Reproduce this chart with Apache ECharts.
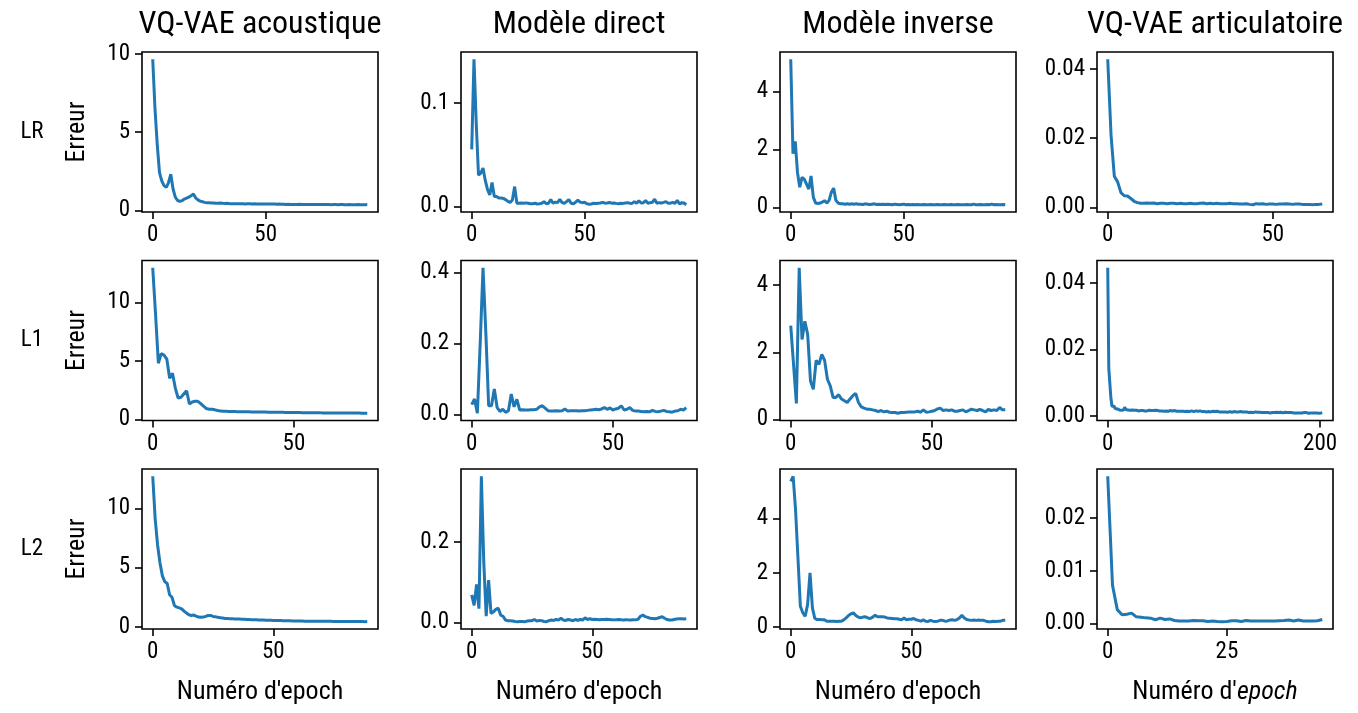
<!DOCTYPE html>
<html>
<head>
<meta charset="utf-8">
<script src="https://cdn.jsdelivr.net/npm/echarts@6.0.0/dist/echarts.min.js"></script>
<style>
  html, body { margin: 0; padding: 0; background: #fff; }
  #chart { width: 1358px; height: 713px; }
</style>
</head>
<body>
<div id="chart"></div>
<script>
const columns = ['VQ-VAE acoustique', 'Modèle direct', 'Modèle inverse', 'VQ-VAE articulatoire'];
const rows = ['LR', 'L1', 'L2'];

// error per epoch
const lrAcoustic = [
  9.66, 6.5, 4.2, 2.41, 1.89, 1.58, 1.47, 1.78, 2.31, 1.37,
  0.84, 0.63, 0.57, 0.62, 0.72, 0.78, 0.85, 0.93, 1.05, 0.8,
  0.67, 0.59, 0.55, 0.51, 0.49, 0.48, 0.47, 0.47, 0.46, 0.46,
  0.47, 0.45, 0.44, 0.46, 0.43, 0.43, 0.43, 0.42, 0.43, 0.42,
  0.42, 0.41, 0.42, 0.42, 0.41, 0.42, 0.41, 0.41, 0.41, 0.40,
  0.41, 0.40, 0.40, 0.41, 0.40, 0.39, 0.40, 0.39, 0.39, 0.38,
  0.39, 0.38, 0.38, 0.38, 0.38, 0.39, 0.38, 0.37, 0.38, 0.38,
  0.37, 0.37, 0.38, 0.37, 0.37, 0.37, 0.38, 0.37, 0.37, 0.36,
  0.37, 0.37, 0.36, 0.37, 0.37, 0.36, 0.36, 0.37, 0.36, 0.36,
  0.36, 0.37, 0.36, 0.36, 0.36, 0.37
];
const lrDirect = [
  0.055, 0.142, 0.08, 0.030, 0.032, 0.037, 0.025, 0.016, 0.011, 0.023,
  0.0095, 0.0095, 0.008, 0.008, 0.0076, 0.0064, 0.0048, 0.0038, 0.006, 0.019,
  0.003, 0.003, 0.0032, 0.003, 0.0033, 0.003, 0.0025, 0.0025, 0.003, 0.0022,
  0.0025, 0.003, 0.0045, 0.0025, 0.003, 0.0065, 0.003, 0.004, 0.0035, 0.0068,
  0.0035, 0.003, 0.0045, 0.0065, 0.003, 0.0025, 0.004, 0.0058, 0.004, 0.0035,
  0.0038, 0.0025, 0.002, 0.0022, 0.003, 0.0028, 0.003, 0.0032, 0.0038, 0.003,
  0.0032, 0.0036, 0.003, 0.0032, 0.0028, 0.0025, 0.003, 0.0028, 0.0032, 0.0035,
  0.003, 0.0028, 0.0045, 0.003, 0.0052, 0.0032, 0.0035, 0.0055, 0.003, 0.0035,
  0.0038, 0.0068, 0.003, 0.0035, 0.0032, 0.0038, 0.0045, 0.003, 0.003, 0.0038,
  0.0028, 0.0058, 0.0022, 0.0035, 0.0032, 0.0015
];
const lrInverse = [
  5.1, 1.85, 2.28, 1.2, 0.7, 1.04, 0.98, 0.81, 0.64, 1.09,
  0.36, 0.16, 0.14, 0.16, 0.19, 0.24, 0.16, 0.25, 0.53, 0.67,
  0.25, 0.16, 0.13, 0.13, 0.12, 0.13, 0.12, 0.13, 0.12, 0.13,
  0.12, 0.12, 0.11, 0.13, 0.12, 0.11, 0.12, 0.13, 0.11, 0.12,
  0.11, 0.12, 0.11, 0.12, 0.11, 0.10, 0.12, 0.11, 0.10, 0.11,
  0.12, 0.10, 0.11, 0.10, 0.11, 0.10, 0.11, 0.10, 0.10, 0.11,
  0.10, 0.10, 0.11, 0.10, 0.10, 0.11, 0.10, 0.10, 0.11, 0.10,
  0.10, 0.11, 0.10, 0.10, 0.11, 0.10, 0.10, 0.10, 0.11, 0.10,
  0.10, 0.12, 0.10, 0.10, 0.11, 0.10, 0.10, 0.11, 0.10, 0.12,
  0.10, 0.11, 0.10, 0.10, 0.11, 0.10
];
const lrArtic = [
  0.0428, 0.021, 0.009, 0.0074, 0.0043, 0.0034, 0.0033, 0.0026, 0.0018, 0.0014,
  0.0012, 0.0012, 0.0013, 0.0012, 0.0013, 0.0011, 0.0012, 0.0012, 0.0011, 0.0012,
  0.0012, 0.0011, 0.0012, 0.0011, 0.0011, 0.0012, 0.0011, 0.0011, 0.0012, 0.0013,
  0.0011, 0.0012, 0.0011, 0.0012, 0.0011, 0.0011, 0.0011, 0.0012, 0.0011, 0.0011,
  0.0010, 0.0010, 0.0011, 0.0009, 0.0008, 0.0011, 0.0010, 0.0011, 0.0009, 0.0010,
  0.0010, 0.0009, 0.0010, 0.0010, 0.0011, 0.0010, 0.0009, 0.0010, 0.0010, 0.0009,
  0.0009, 0.0009, 0.0008, 0.0009, 0.0009, 0.0010
];

const l1Acoustic = [
  12.96, 9.0, 4.8, 5.63, 5.5, 5.15, 3.52, 3.94, 2.68, 1.83,
  1.89, 2.17, 2.45, 1.32, 1.49, 1.55, 1.55, 1.35, 1.13, 0.93,
  0.87, 0.87, 0.82, 0.76, 0.73, 0.70, 0.69, 0.68, 0.67, 0.67,
  0.66, 0.66, 0.65, 0.65, 0.65, 0.64, 0.64, 0.64, 0.63, 0.63,
  0.63, 0.62, 0.62, 0.62, 0.61, 0.61, 0.61, 0.60, 0.60, 0.60,
  0.59, 0.59, 0.59, 0.58, 0.58, 0.58, 0.57, 0.57, 0.57, 0.57,
  0.56, 0.56, 0.56, 0.56, 0.55, 0.55, 0.55, 0.55, 0.55, 0.54,
  0.54, 0.54, 0.54, 0.54, 0.53, 0.53, 0.53
];
const l1Direct = [
  0.028, 0.044, 0.004, 0.2, 0.413, 0.23, 0.025, 0.025, 0.072, 0.020,
  0.009, 0.015, 0.0065, 0.011, 0.058, 0.022, 0.043, 0.013, 0.014, 0.013,
  0.013, 0.014, 0.014, 0.015, 0.022, 0.025, 0.018, 0.011, 0.010, 0.010,
  0.011, 0.010, 0.011, 0.016, 0.010, 0.011, 0.011, 0.011, 0.010, 0.011,
  0.011, 0.012, 0.013, 0.014, 0.015, 0.014, 0.016, 0.020, 0.015, 0.019,
  0.013, 0.016, 0.018, 0.025, 0.013, 0.015, 0.020, 0.012, 0.010, 0.010,
  0.009, 0.008, 0.009, 0.008, 0.012, 0.009, 0.008, 0.010, 0.012, 0.009,
  0.008, 0.007, 0.010, 0.011, 0.015, 0.013, 0.020
];
const l1Inverse = [
  2.79, 1.64, 0.48, 4.51, 2.38, 2.92, 2.53, 1.15, 0.90, 1.76,
  1.64, 1.94, 1.76, 1.2, 1.0, 0.66, 0.66, 0.74, 0.61, 0.56,
  0.51, 0.61, 0.71, 0.78, 0.51, 0.38, 0.34, 0.31, 0.31, 0.29,
  0.27, 0.24, 0.27, 0.23, 0.25, 0.22, 0.21, 0.21, 0.19, 0.21,
  0.21, 0.22, 0.23, 0.23, 0.23, 0.25, 0.22, 0.29, 0.22, 0.23,
  0.25, 0.27, 0.32, 0.34, 0.27, 0.29, 0.27, 0.29, 0.25, 0.25,
  0.27, 0.29, 0.23, 0.27, 0.31, 0.29, 0.27, 0.30, 0.27, 0.23,
  0.30, 0.27, 0.29, 0.27, 0.36, 0.29, 0.29
];
const l1Artic = [
  0.0445, 0.0143, 0.0138, 0.0053, 0.0029, 0.0024, 0.0029, 0.0022, 0.0026, 0.0021, 0.0019,
  0.0018, 0.0020, 0.0017, 0.0019, 0.0018, 0.0026, 0.0019, 0.0017, 0.0018, 0.0016,
  0.0017, 0.0016, 0.0018, 0.0016, 0.0017, 0.0015, 0.0017, 0.0016, 0.0015, 0.0017,
  0.0016, 0.0015, 0.0016, 0.0017, 0.0015, 0.0016, 0.0015, 0.0016, 0.0017, 0.0015,
  0.0016, 0.0015, 0.0016, 0.0015, 0.0017, 0.0015, 0.0016, 0.0014, 0.0015, 0.0016,
  0.0015, 0.0016, 0.0014, 0.0015, 0.0015, 0.0016, 0.0014, 0.0015, 0.0016, 0.0014,
  0.0015, 0.0014, 0.0016, 0.0015, 0.0014, 0.0015, 0.0014, 0.0016, 0.0014, 0.0015,
  0.0014, 0.0015, 0.0013, 0.0015, 0.0014, 0.0015, 0.0013, 0.0014, 0.0015, 0.0014,
  0.0013, 0.0014, 0.0015, 0.0013, 0.0014, 0.0013, 0.0015, 0.0014, 0.0013, 0.0014,
  0.0013, 0.0014, 0.0012, 0.0014, 0.0013, 0.0014, 0.0012, 0.0013, 0.0014, 0.0012,
  0.0013, 0.0012, 0.0014, 0.0013, 0.0012, 0.0013, 0.0012, 0.0013, 0.0012, 0.0013,
  0.0012, 0.0013, 0.0011, 0.0012, 0.0013, 0.0012, 0.0011, 0.0012, 0.0013, 0.0011,
  0.0012, 0.0011, 0.0012, 0.0011, 0.0013, 0.0011, 0.0012, 0.0011, 0.0012, 0.0011,
  0.0012, 0.0011, 0.0010, 0.0012, 0.0011, 0.0012, 0.0010, 0.0011, 0.0012, 0.0010,
  0.0011, 0.0010, 0.0011, 0.0012, 0.0010, 0.0011, 0.0010, 0.0011, 0.0010, 0.0011,
  0.0010, 0.0011, 0.0009, 0.0011, 0.0010, 0.0011, 0.0010, 0.0009, 0.0011, 0.0010,
  0.0010, 0.0009, 0.0011, 0.0010, 0.0009, 0.0010, 0.0011, 0.0009, 0.0010, 0.0009,
  0.0010, 0.0009, 0.0010, 0.0011, 0.0009, 0.0010, 0.0009, 0.0010, 0.0009, 0.0010,
  0.0009, 0.0010, 0.0009, 0.0008, 0.0010, 0.0009, 0.0010, 0.0009, 0.0008, 0.0010,
  0.0009, 0.0008, 0.0009, 0.0010, 0.0009, 0.0008, 0.0009, 0.0010, 0.0008, 0.0009,
  0.0009, 0.0010
];

const l2Acoustic = [
  12.72, 9.17, 6.94, 5.42, 4.31, 3.83, 3.67, 2.72, 2.5, 1.81,
  1.67, 1.61, 1.53, 1.33, 1.17, 1.03, 0.97, 1.0, 0.92, 0.83,
  0.81, 0.83, 0.89, 0.97, 0.97, 0.89, 0.86, 0.81, 0.78, 0.75,
  0.72, 0.71, 0.70, 0.69, 0.68, 0.67, 0.66, 0.65, 0.64, 0.63,
  0.62, 0.61, 0.60, 0.60, 0.59, 0.58, 0.58, 0.57, 0.56, 0.56,
  0.55, 0.55, 0.54, 0.54, 0.53, 0.53, 0.52, 0.52, 0.51, 0.51,
  0.50, 0.50, 0.50, 0.49, 0.49, 0.49, 0.48, 0.48, 0.48, 0.48,
  0.47, 0.47, 0.47, 0.47, 0.47, 0.46, 0.46, 0.46, 0.46, 0.46,
  0.46, 0.45, 0.45, 0.45, 0.45, 0.45, 0.45, 0.45, 0.44, 0.45
];
const l2Direct = [
  0.069, 0.043, 0.095, 0.035, 0.364, 0.15, 0.016, 0.106, 0.023, 0.027,
  0.033, 0.036, 0.019, 0.016, 0.0065, 0.005, 0.005, 0.004, 0.003, 0.0024,
  0.003, 0.003, 0.0024, 0.004, 0.005, 0.005, 0.008, 0.004, 0.0057, 0.005,
  0.003, 0.0024, 0.005, 0.0065, 0.0057, 0.008, 0.0065, 0.011, 0.0065, 0.0057,
  0.008, 0.0065, 0.005, 0.008, 0.0057, 0.008, 0.0065, 0.012, 0.008, 0.0098,
  0.008, 0.0085, 0.008, 0.0075, 0.008, 0.0078, 0.0085, 0.008, 0.0075, 0.007,
  0.0075, 0.008, 0.0072, 0.0068, 0.0075, 0.007, 0.0068, 0.0075, 0.007, 0.0085,
  0.016, 0.019, 0.015, 0.0131, 0.011, 0.0106, 0.0098, 0.011, 0.013, 0.015,
  0.011, 0.008, 0.0065, 0.0065, 0.008, 0.009, 0.0098, 0.0098, 0.009, 0.0098
];
const l2Inverse = [
  5.37, 5.56, 4.33, 2.55, 0.77, 0.53, 0.40, 0.83, 2.0, 0.71,
  0.32, 0.28, 0.28, 0.27, 0.27, 0.22, 0.22, 0.22, 0.22, 0.21,
  0.22, 0.22, 0.27, 0.34, 0.43, 0.49, 0.53, 0.43, 0.37, 0.34,
  0.37, 0.38, 0.34, 0.32, 0.37, 0.44, 0.38, 0.38, 0.38, 0.37,
  0.34, 0.33, 0.32, 0.31, 0.31, 0.29, 0.27, 0.34, 0.27, 0.29,
  0.29, 0.32, 0.27, 0.25, 0.22, 0.27, 0.22, 0.21, 0.25, 0.22,
  0.21, 0.22, 0.25, 0.25, 0.22, 0.23, 0.26, 0.27, 0.25, 0.28,
  0.34, 0.44, 0.34, 0.28, 0.26, 0.25, 0.26, 0.25, 0.26, 0.25,
  0.25, 0.22, 0.20, 0.20, 0.22, 0.21, 0.22, 0.22, 0.25, 0.25
];
const l2Artic = [
  0.0279, 0.0073, 0.00266, 0.0017, 0.0018, 0.002, 0.0013, 0.0012, 0.0011, 0.00105,
  0.00074, 0.00105, 0.0008, 0.0009, 0.0006, 0.0005, 0.0005, 0.0005, 0.0006, 0.00056,
  0.00056, 0.00043, 0.0005, 0.00043, 0.00037, 0.00043, 0.00056, 0.00056, 0.00043, 0.0006,
  0.0005, 0.0005, 0.0005, 0.0005, 0.0005, 0.0005, 0.00056, 0.0006, 0.00068, 0.0005,
  0.00068, 0.0005, 0.0005, 0.0005, 0.00056, 0.0008
];

const curves = [
  [lrAcoustic, lrDirect, lrInverse, lrArtic],
  [l1Acoustic, l1Direct, l1Inverse, l1Artic],
  [l2Acoustic, l2Direct, l2Inverse, l2Artic]
];

// tick labels
const yTicks = [
  [[0, 5, 10], [0, 0.1], [0, 2, 4], [0, 0.02, 0.04]],
  [[0, 5, 10], [0, 0.2, 0.4], [0, 2, 4], [0, 0.02, 0.04]],
  [[0, 5, 10], [0, 0.2], [0, 2, 4], [0, 0.01, 0.02]]
];
const yDecimals = [0, 1, 0, 2];
const xTicks = [
  [[0, 50], [0, 50], [0, 50], [0, 50]],
  [[0, 50], [0, 50], [0, 50], [0, 200]],
  [[0, 50], [0, 50], [0, 50], [0, 25]]
];

const FONT = "'Roboto Condensed', 'Liberation Sans Narrow', 'DejaVu Sans Condensed', Roboto";
const lefts = [142, 461, 780, 1097];
const tops = [52, 260.5, 469];
const W = 236, H = 160;

// matplotlib style 5% margins
const lo = v => v.min - 0.05 * (v.max - v.min);
const hi = v => v.max + 0.05 * (v.max - v.min);

const grids = [], xAxes = [], yAxes = [], series = [], graphics = [];

rows.forEach((rowName, i) => {
  columns.forEach((colName, j) => {
    const k = grids.length;
    grids.push({
      left: lefts[j], top: tops[i], width: W, height: H,
      show: true, borderColor: '#000', borderWidth: 1.6,
      containLabel: false, outerBoundsMode: 'none'
    });

    const xa = {
      type: 'value', gridIndex: k, position: 'bottom', min: lo, max: hi,
      axisLine: { show: false, onZero: false },
      splitLine: { show: false },
      axisTick: { show: true, inside: false, length: 7, customValues: xTicks[i][j],
        lineStyle: { color: '#000', width: 1.6 } },
      axisLabel: { customValues: xTicks[i][j], margin: 12, color: '#000',
        fontFamily: FONT, fontSize: 23 }
    };
    if (i === rows.length - 1) {
      xa.name = j === 3 ? "Numéro d'{i|epoch}" : "Numéro d'epoch";
      xa.nameLocation = 'middle';
      xa.nameGap = 50;
      xa.nameTextStyle = {
        color: '#000', fontFamily: FONT, fontSize: 26, verticalAlign: 'top',
        rich: { i: { fontStyle: 'italic', fontFamily: FONT, fontSize: 26, color: '#000' } }
      };
    }
    xAxes.push(xa);

    const dec = yDecimals[j];
    const ya = {
      type: 'value', gridIndex: k, position: 'left', min: lo, max: hi,
      axisLine: { show: false, onZero: false },
      splitLine: { show: false },
      axisTick: { show: true, inside: false, length: 7, customValues: yTicks[i][j],
        lineStyle: { color: '#000', width: 1.6 } },
      axisLabel: { customValues: yTicks[i][j], margin: 12, color: '#000',
        fontFamily: FONT, fontSize: 23, formatter: v => v.toFixed(dec) }
    };
    if (j === 0) {
      ya.name = 'Erreur';
      ya.nameLocation = 'middle';
      ya.nameRotate = 90;
      ya.nameGap = 52;
      ya.nameTextStyle = { color: '#000', fontFamily: FONT, fontSize: 26 };
    }
    yAxes.push(ya);

    series.push({
      type: 'line', xAxisIndex: k, yAxisIndex: k,
      data: curves[i][j].map((v, n) => [n, v]),
      showSymbol: false, clip: true,
      lineStyle: { color: '#1f77b4', width: 3 },
      itemStyle: { color: '#1f77b4' }
    });
  });

  graphics.push({
    type: 'text', x: 32, y: tops[i] + H / 2,
    style: { text: rowName, fill: '#000', font: '23px ' + FONT,
      textAlign: 'center', textVerticalAlign: 'middle' }
  });
});

columns.forEach((colName, j) => {
  graphics.push({
    type: 'text', x: lefts[j] + W / 2, y: 25,
    style: { text: colName, fill: '#000', font: '32px ' + FONT,
      textAlign: 'center', textVerticalAlign: 'middle' }
  });
});

const chart = echarts.init(document.getElementById('chart'));
chart.setOption({
  animation: false,
  backgroundColor: '#fff',
  grid: grids,
  xAxis: xAxes,
  yAxis: yAxes,
  series: series,
  graphic: graphics
});
</script>
</body>
</html>
